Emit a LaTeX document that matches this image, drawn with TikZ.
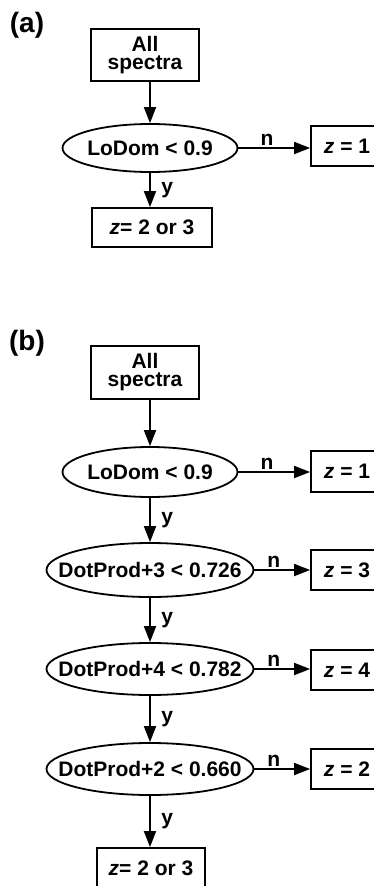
\documentclass[tikz,border=0pt]{standalone}
\usepackage{fontspec}
\setmainfont{Liberation Sans}
\usetikzlibrary{shapes.geometric,arrows.meta}
\begin{document}
\begin{tikzpicture}[x=1pt,y=-1pt,line width=1.8pt,
	font=\bfseries\fontsize{21}{18}\selectfont,
	box/.style={rectangle,draw,inner sep=0pt,align=center,minimum width=72pt,minimum height=40pt},
	test/.style={ellipse,draw,inner sep=0pt,minimum height=50pt,label=center:{#1}},
	arr/.style={-{Triangle[length=16pt,width=12pt]}},
	tag/.style={inner sep=1.5pt},
	panel/.style={font=\bfseries\fontsize{28}{28}\selectfont}]
	\useasboundingbox (0,0) rectangle (374,886);
	% (a)
	\node[panel] (pa) at (27,25) {(a)};
	\node[box,minimum width=108pt,minimum height=52pt] (alla) at (145,55) {All\\spectra};
	\node[test={LoDom < 0.9},minimum width=175pt,minimum height=48pt] (loa) at (150,148) {};
	\node[box] (z1a) at (347,146) {\textit{z} = 1};
	\node[box,minimum width=120pt,minimum height=39pt] (z23a) at (152,227.5) {\textit{z}= 2 or 3};
	\draw[arr] (alla.south -| loa.north) -- (loa.north);
	\draw[arr] (loa.east) -- node[tag,above,pos=.4] (na) {n} (z1a.west |- loa.east);
	\draw[arr] (loa.south) -- node[tag,right=9pt] (ya) {y} (z23a.north -| loa.south);
	% (b)
	\node[panel] (pb) at (27,343) {(b)};
	\node[box,minimum width=108pt,minimum height=53pt] (allb) at (145,372.5) {All\\spectra};
	\node[test={LoDom < 0.9},minimum width=175pt] (lob) at (150,472) {};
	\node[box,minimum height=41pt] (z1b) at (347,471.5) {\textit{z} = 1};
	\node[test={DotProd+3 < 0.726},minimum width=207pt,minimum height=54pt] (d3) at (150,570) {};
	\node[box] (z3) at (347,570) {\textit{z} = 3};
	\node[test={DotProd+4 < 0.782},minimum width=207pt,minimum height=52pt] (d4) at (150,669) {};
	\node[box] (z4) at (347,670) {\textit{z} = 4};
	\node[test={DotProd+2 < 0.660},minimum width=207pt,minimum height=52pt] (d2) at (150,769) {};
	\node[box] (z2) at (347,769) {\textit{z} = 2};
	\node[box,minimum width=108pt] (z23b) at (151,868) {\textit{z}= 2 or 3};
	\draw[arr] (allb.south -| lob.north) -- (lob.north);
	\draw[arr] (lob.east) -- node[tag,above,pos=.4] (nb1) {n} (z1b.west |- lob.east);
	\draw[arr] (lob.south) -- node[tag,right=9pt] (yb1) {y} (d3.north);
	\draw[arr] (d3.east) -- node[tag,above,pos=.35] (nb2) {n} (z3.west |- d3.east);
	\draw[arr] (d3.south) -- node[tag,right=9pt] (yb2) {y} (d4.north);
	\draw[arr] (d4.east) -- node[tag,above,pos=.35] (nb3) {n} (z4.west |- d4.east);
	\draw[arr] (d4.south) -- node[tag,right=9pt] (yb3) {y} (d2.north);
	\draw[arr] (d2.east) -- node[tag,above,pos=.35] (nb4) {n} (z2.west |- d2.east);
	\draw[arr] (d2.south) -- node[tag,right=9pt] (yb4) {y} (z23b.north -| d2.south);
\end{tikzpicture}
\end{document}
